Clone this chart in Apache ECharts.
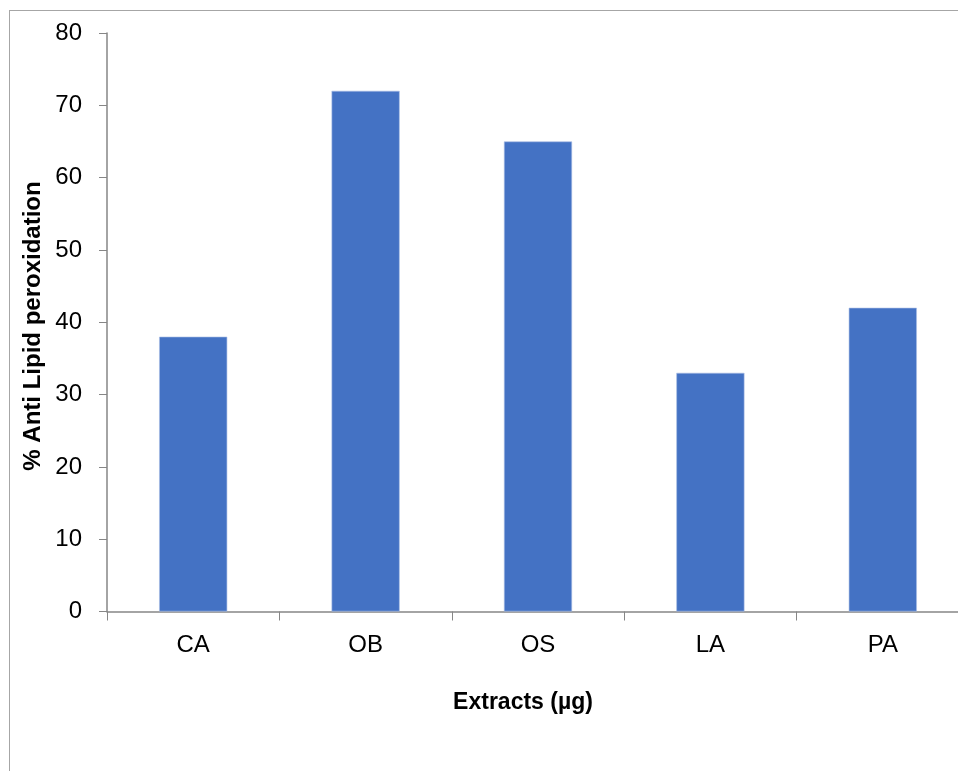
<!DOCTYPE html>
<html><head><meta charset="utf-8">
<script src="https://cdn.jsdelivr.net/npm/echarts@6/dist/echarts.min.js"></script>
<style>
html,body{margin:0;padding:0;overflow:hidden;background:#fff;width:958px;height:771px;}
#frame{position:absolute;left:9px;top:10px;width:1200px;height:1200px;border:1px solid #a6a6a6;}
#c{position:absolute;left:0;top:0;width:1000px;height:771px;}
</style></head>
<body>
<div id="frame"></div>
<div id="c"></div>
<script>
const categories = ['CA', 'OB', 'OS', 'LA', 'PA'];
const values = [38, 72, 65, 33, 42];
const yTicks = {min: 0, max: 80, interval: 10};
const xTitle = 'Extracts (µg)';
const yTitle = '% Anti Lipid peroxidation';

const font = "'Liberation Sans', Arial, sans-serif";
const chart = echarts.init(document.getElementById('c'), null, {renderer: 'canvas'});
chart.setOption({
  animation: false,
  backgroundColor: 'transparent',
  graphic: [
    {type: 'text', x: 523, y: 703,
     style: {text: xTitle, fontFamily: font, fontWeight: 'bold', fontSize: 23, fill: '#000',
             align: 'center', verticalAlign: 'middle'}},
    {type: 'text', x: 33, y: 326, rotation: Math.PI / 2,
     style: {text: yTitle, fontFamily: font, fontWeight: 'bold', fontSize: 24, fill: '#000',
             align: 'center', verticalAlign: 'middle'}}
  ],
  grid: {left: 107, top: 33, width: 862, height: 578.5, containLabel: false},
  xAxis: {
    type: 'category', data: categories,
    axisLine: {lineStyle: {color: '#868686', width: 1.5}},
    axisTick: {show: true, length: 9, lineStyle: {color: '#868686'}},
    axisLabel: {fontFamily: font, fontSize: 24, color: '#000', margin: 22}
  },
  yAxis: {
    type: 'value', min: yTicks.min, max: yTicks.max, interval: yTicks.interval,
    splitLine: {show: false},
    axisLine: {show: true, lineStyle: {color: '#868686', width: 1.5}},
    axisTick: {show: true, length: 8, lineStyle: {color: '#868686'}},
    axisLabel: {fontFamily: font, fontSize: 24, color: '#000', margin: 25}
  },
  series: [{
    type: 'bar', data: values, barWidth: '39.5%',
    itemStyle: {color: '#4472C4', borderColor: '#a9bde4', borderWidth: 0.6}
  }]
});
</script>
</body></html>
